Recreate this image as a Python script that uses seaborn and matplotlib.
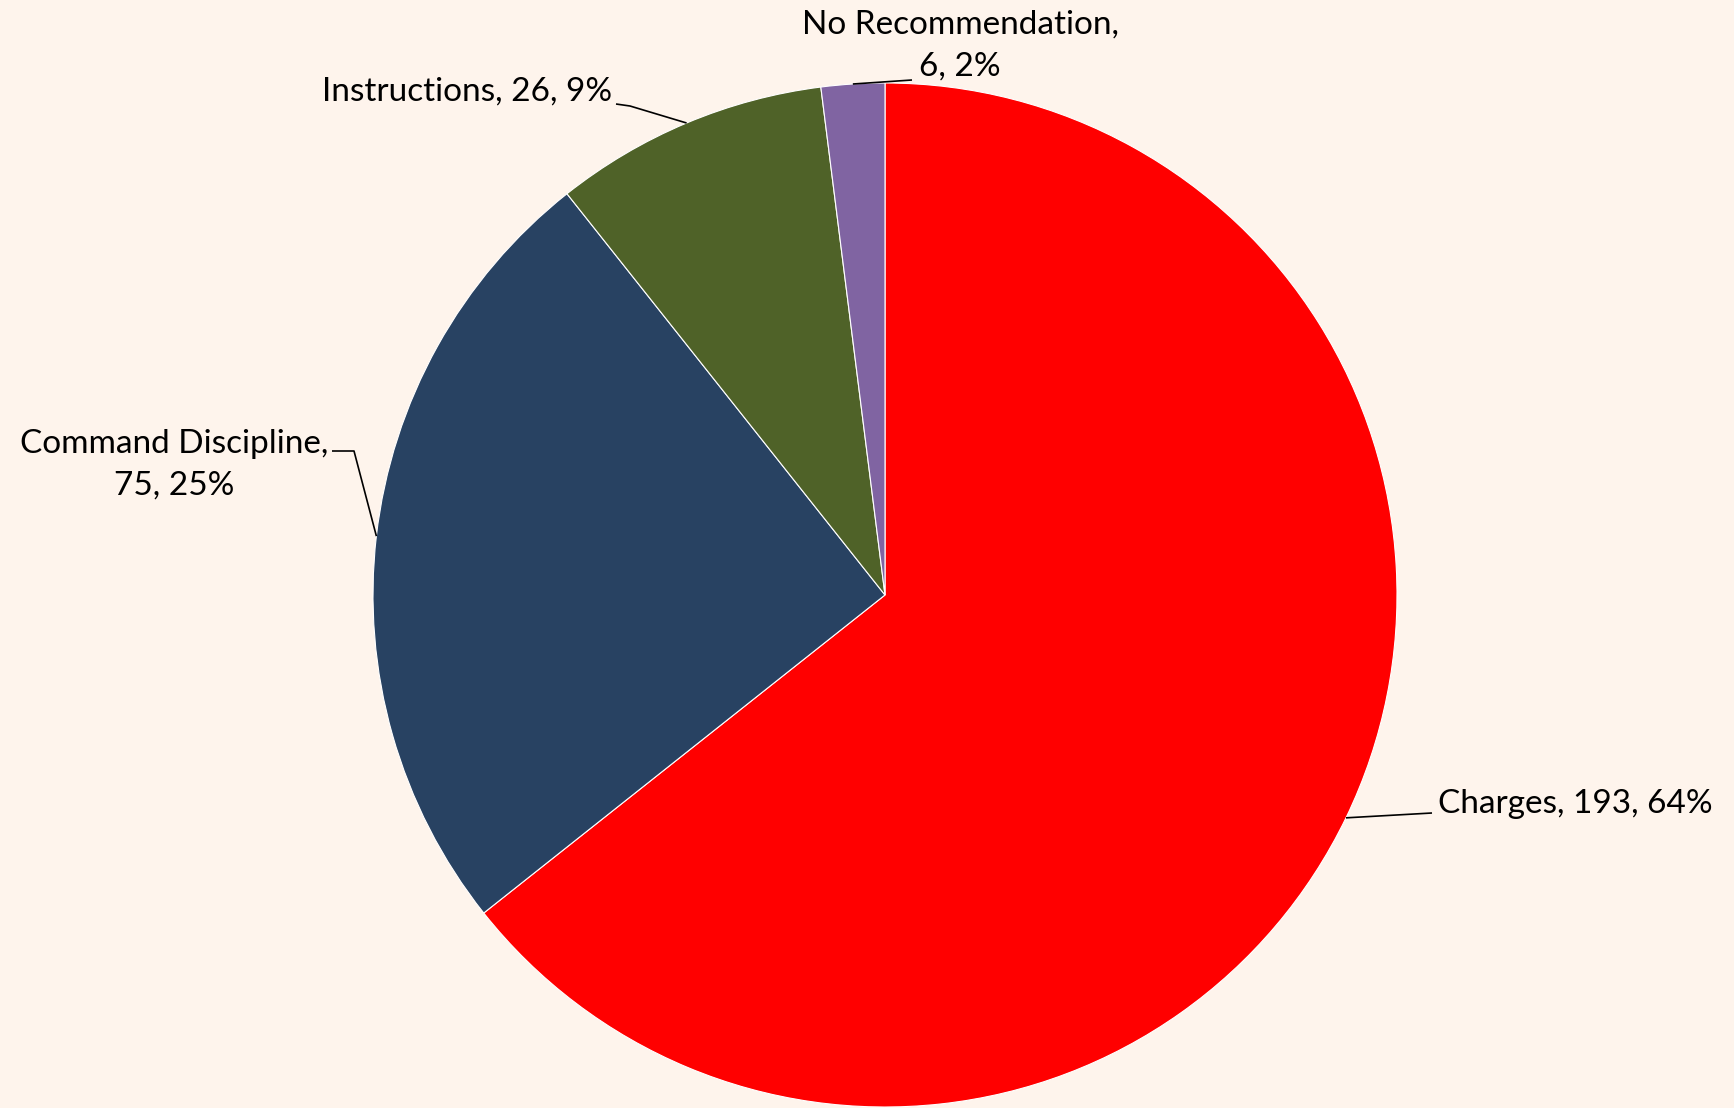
import matplotlib
matplotlib.use("Agg")
import matplotlib.pyplot as plt
import seaborn as sns
import numpy as np

categories = ["Charges", "Command Discipline", "Instructions", "No Recommendation"]
counts = [193, 75, 26, 6]
colors = ["#FF0000", "#284262", "#4F6228", "#8064A2"]

sns.set_theme(style="white")
plt.rcParams["font.family"] = ["Lato", "DejaVu Sans"]

W, H = 1734, 1108
bg = "#FEF4EC"
fig = plt.figure(figsize=(W / 100, H / 100), dpi=100, facecolor=bg)
ax = fig.add_axes([0, 0, 1, 1])
ax.set_facecolor(bg)

cx, cy, r = 885, H - 595, 512
wedges, _ = ax.pie(counts, colors=colors, startangle=90, counterclock=False,
                   center=(cx, cy), radius=r, frame=True,
                   wedgeprops=dict(edgecolor="white", linewidth=0.8))
ax.set_xlim(0, W)
ax.set_ylim(0, H)
ax.set_aspect("equal")
ax.axis("off")

total = sum(counts)
pcts = [round(c / total * 100) for c in counts]
texts = [f"{categories[0]}, {counts[0]}, {pcts[0]}%",
         f"{categories[1]},\n{counts[1]}, {pcts[1]}%",
         f"{categories[2]}, {counts[2]}, {pcts[2]}%",
         f"{categories[3]},\n{counts[3]}, {pcts[3]}%"]

# label placement (pixel coords, top-down), elbow points, alignment
layout = [
    dict(xy=(1438, 804), ha="left", path=[(1432, 813)]),
    dict(xy=(174, 465), ha="center", path=[(354, 451), (332, 451)]),
    dict(xy=(612, 92), ha="right", path=[(630, 106), (616, 104)]),
    dict(xy=(960, 46), ha="center", path=[(912, 80)]),
]

for w, txt, lay in zip(wedges, texts, layout):
    mid = np.deg2rad((w.theta1 + w.theta2) / 2)
    ex, ey = cx + r * np.cos(mid), cy + r * np.sin(mid)
    xs = [ex] + [p[0] for p in lay["path"]]
    ys = [ey] + [H - p[1] for p in lay["path"]]
    ax.plot(xs, ys, color="black", linewidth=1.2, solid_capstyle="butt")
    ax.text(lay["xy"][0], H - lay["xy"][1], txt, ha=lay["ha"], va="center",
            multialignment="center", fontsize=24, color="black", linespacing=1.5)

fig.savefig("out.png", dpi=100, facecolor=bg)
